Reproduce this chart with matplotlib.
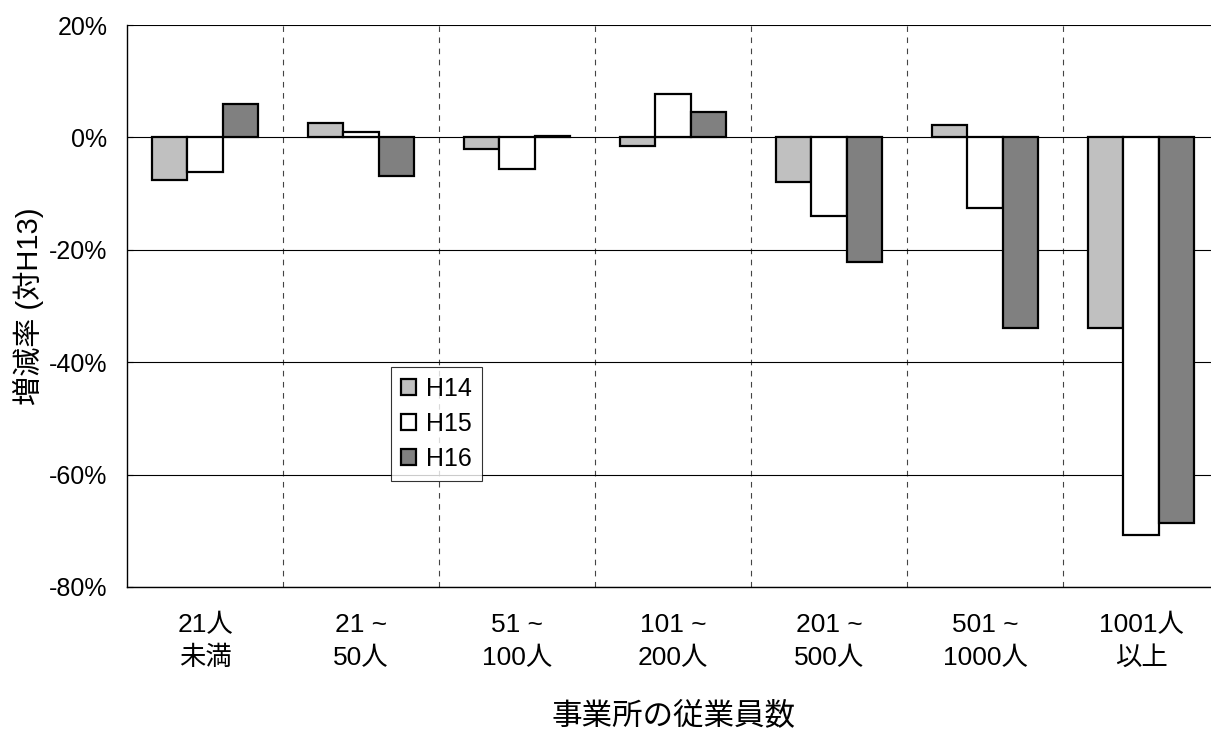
import numpy as np
import matplotlib
matplotlib.use('Agg')
import matplotlib.pyplot as plt
from matplotlib.ticker import FuncFormatter

plt.rcParams['font.family'] = ['Liberation Sans', 'Noto Sans CJK JP']

# data (percent change vs H13)
categories = ['21人\n未満', '21 ~\n50人', '51 ~\n100人', '101 ~\n200人',
              '201 ~\n500人', '501 ~\n1000人', '1001人\n以上']
h14 = [-7.5, 2.5, -2.1, -1.6, -8.0, 2.2, -34.0]
h15 = [-6.2, 0.9, -5.7, 7.7, -13.9, -12.6, -70.8]
h16 = [5.9, -6.8, 0.3, 4.5, -22.2, -34.0, -68.7]
series = [('H14', h14, '#c0c0c0'), ('H15', h15, '#ffffff'), ('H16', h16, '#808080')]

fig = plt.figure(figsize=(12.11, 7.29), dpi=100)
ax = fig.add_axes([0.1049, 0.1948, 0.9017, 0.7709])

x = np.arange(len(categories))
w = 0.225
for i, (name, vals, col) in enumerate(series):
    ax.bar(x + (i - 1) * w, vals, w, color=col, edgecolor='black',
           linewidth=1.6, label=name, zorder=3)

ax.set_xlim(-0.5, len(categories) - 0.5)
ax.set_ylim(-80, 20)
ax.set_yticks(np.arange(-80, 21, 20))
ax.yaxis.set_major_formatter(FuncFormatter(lambda v, p: f'{v:.0f}%'))
ax.grid(axis='y', color='black', linewidth=0.8, zorder=0)
for b in x[:-1] + 0.5:
    ax.axvline(b, color='#444444', linestyle=(0, (5, 5)), linewidth=0.8, zorder=1)

ax.set_xticks(x)
ax.set_xticklabels(categories, fontsize=19, linespacing=1.45)
ax.tick_params(axis='x', length=0, pad=19)
ax.tick_params(axis='y', direction='in', length=4, labelsize=18, pad=14)
ax.spines['top'].set_visible(False)
ax.spines['right'].set_visible(False)
for s in ['left', 'bottom']:
    ax.spines[s].set_linewidth(1.0)

ax.set_xlabel('事業所の従業員数', fontsize=22, labelpad=22)
ax.set_ylabel('増減率 (対H13)', fontsize=21, labelpad=4)

leg = ax.legend(loc='upper left', bbox_to_anchor=(0.242, 0.392), fontsize=18,
                frameon=True, fancybox=False, handlelength=0.6, handleheight=0.6,
                handletextpad=0.4, borderpad=0.4, labelspacing=0.45,
                borderaxespad=0)
leg.get_frame().set_edgecolor('black')
leg.get_frame().set_linewidth(0.8)
leg.set_zorder(5)

fig.savefig('out.png', dpi=100)
